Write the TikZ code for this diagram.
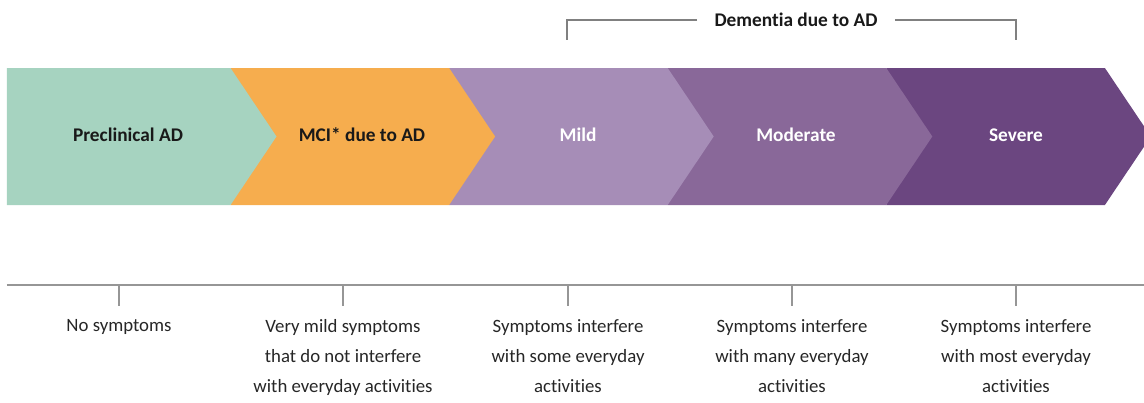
\documentclass[tikz,border=0pt]{standalone}
\usepackage{fontspec}
\setmainfont{Carlito}[Ligatures={NoCommon}]
\usetikzlibrary{positioning, calc}
\definecolor{preclingreen}{RGB}{166, 211, 192}
\definecolor{mciorange}{RGB}{246, 173, 78}
\definecolor{mildpurple}{RGB}{166, 141, 183}
\definecolor{modpurple}{RGB}{137, 104, 153}
\definecolor{sevpurple}{RGB}{107, 70, 128}
\definecolor{rulegray}{RGB}{150, 150, 150}
\tikzstyle{stagelabel} = [font=\fontsize{11}{13}\selectfont\bfseries, anchor=center]
\tikzstyle{desc} = [font=\fontsize{10.7}{17}\selectfont, align=center, anchor=north, text=black!85, inner sep=0pt]
\tikzstyle{rule} = [draw=rulegray, line width=0.8pt]

\begin{document}
\begin{tikzpicture}
    \clip (0,0) rectangle (22.88,8.04);

    % Stage band, right to left so each tip covers the next notch
    \foreach \l/\r/\col in {17.726/22.098/sevpurple, 13.354/17.726/modpurple, 8.982/13.354/mildpurple, 4.61/8.982/mciorange, 0.14/4.61/preclingreen}{
        \fill[\col] (\l,6.68) -- (\r,6.68) -- (\r+0.92,5.31) -- (\r,3.94) -- (\l,3.94) -- cycle;
    }

    % Stage labels
    \node[stagelabel, text=black!90] (preclin) at (2.56,5.34) {Preclinical AD};
    \node[stagelabel, text=black!90] (mci) at (7.24,5.34) {MCI* due to AD};
    \node[stagelabel, text=white] (mild) at (11.56,5.34) {Mild};
    \node[stagelabel, text=white] (moderate) at (15.92,5.34) {Moderate};
    \node[stagelabel, text=white] (severe) at (20.32,5.34) {Severe};

    % Dementia bracket
    \node[stagelabel, text=black!90, inner xsep=0.34cm] (dementia) at (15.92,7.64) {Dementia due to AD};
    \coordinate (dleft) at (11.34,7.24);
    \coordinate (dright) at (20.32,7.24);
    \draw[rule, draw=gray] (dementia.west) -| (dleft);
    \draw[rule, draw=gray] (dementia.east) -| (dright);

    % Symptom axis
    \coordinate (axisstart) at (0.14,2.34);
    \coordinate (axisend) at (22.88,2.34);
    \draw[rule] (axisstart) -- (axisend);
    \foreach \n/\x/\txt in {nosym/2.38/{No symptoms}, verymild/6.86/{Very mild symptoms\\that do not interfere\\with everyday activities}, some/11.36/{Symptoms interfere\\with some everyday\\activities}, many/15.84/{Symptoms interfere\\with many everyday\\activities}, most/20.32/{Symptoms interfere\\with most everyday\\activities}}{
        \coordinate (tick\n) at (\x,2.34);
        \coordinate (tickend\n) at (\x,1.92);
        \draw[rule] (tick\n) -- (tickend\n);
        \node[desc] (desc\n) at (\x,1.66) {\txt};
    }
\end{tikzpicture}
\end{document}
